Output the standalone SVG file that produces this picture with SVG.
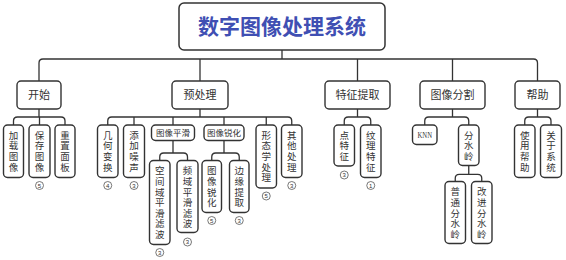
<svg xmlns="http://www.w3.org/2000/svg" width="566" height="260" viewBox="0 0 566 260">
<style>
.box{fill:#fff;stroke:#333;stroke-width:1.4}
.root{fill:#fff;stroke:#333;stroke-width:1.5}
.ln{fill:none;stroke:#333;stroke-width:1.3}
.t1{font-family:"Noto Sans CJK SC","Noto Sans",sans-serif;font-size:11px;fill:#333;text-anchor:middle}
.t2{font-family:"Noto Sans CJK SC","Noto Sans",sans-serif;font-size:9.5px;fill:#333;writing-mode:vertical-rl;letter-spacing:1.1px}
.th{font-family:"Noto Sans CJK SC","Noto Sans",sans-serif;font-size:8.5px;fill:#333;text-anchor:middle}
.tt{font-family:"Noto Sans CJK SC","Noto Sans",sans-serif;font-size:21px;font-weight:bold;fill:#3F4FB3;text-anchor:middle}
.knn{font-family:"Liberation Serif",serif;font-size:9px;fill:#333;text-anchor:middle}
.bd{fill:#fff;stroke:#555;stroke-width:0.8}
.bn{font-family:"Liberation Sans",sans-serif;font-size:6px;fill:#333;text-anchor:middle}
</style>
<rect width="566" height="260" fill="#fff"/>
<g id="connectors">
<path class="ln" d="M282 50 V59"/>
<path class="ln" d="M39 81 V63 Q39 59 43 59 H533.5 Q537.5 59 537.5 63 V81"/>
<path class="ln" d="M200 59 V81 M357.5 59 V81 M452.5 59 V81"/>
<path class="ln" d="M39 109 V117 M13.5 125 V121 Q13.5 117 17.5 117 H61 Q65 117 65 121 V125 M39.5 117 V125"/>
<path class="ln" d="M200 109 V117 M107.75 125 V121 Q107.75 117 111.75 117 H287.75 Q291.75 117 291.75 121 V125 M134 117 V125 M173 117 V125 M224 117 V125 M266.25 117 V125"/>
<path class="ln" d="M173 140.5 V153 M159.75 160.5 V157 Q159.75 153 163.75 153 H183.5 Q187.5 153 187.5 157 V160.5"/>
<path class="ln" d="M224 140.5 V153 M211.75 160.5 V157 Q211.75 153 215.75 153 H235.25 Q239.25 153 239.25 157 V160.5"/>
<path class="ln" d="M357.5 109 V117 M344.25 125 V121 Q344.25 117 348.25 117 H366.75 Q370.75 117 370.75 121 V125"/>
<path class="ln" d="M452.5 109 V117 M424.75 125 V121 Q424.75 117 428.75 117 H464.75 Q468.75 117 468.75 121 V125"/>
<path class="ln" d="M468.75 165.5 V174.3 M455.25 181.5 V178.3 Q455.25 174.3 459.25 174.3 H477.75 Q481.75 174.3 481.75 178.3 V181.5"/>
<path class="ln" d="M537.5 109 V117 M524.75 125 V121 Q524.75 117 528.75 117 H547 Q551 117 551 121 V125"/>
</g>
<g id="root">
<rect class="root" x="179" y="3" width="206" height="47" rx="5"/>
<text class="tt" x="282" y="34">数字图像处理系统</text>
</g>
<g id="n-start">
<rect class="box" x="17" y="81" width="44" height="28" rx="4"/>
<text class="t1" x="39" y="99">开始</text>
</g>
<g id="n-pre">
<rect class="box" x="172" y="81" width="56" height="28" rx="4"/>
<text class="t1" x="200" y="99">预处理</text>
</g>
<g id="n-feat">
<rect class="box" x="325" y="81" width="65" height="28" rx="4"/>
<text class="t1" x="357.5" y="99">特征提取</text>
</g>
<g id="n-seg">
<rect class="box" x="420" y="81" width="65" height="28" rx="4"/>
<text class="t1" x="452.5" y="99">图像分割</text>
</g>
<g id="n-help">
<rect class="box" x="515" y="81" width="45" height="28" rx="4"/>
<text class="t1" x="537.5" y="99">帮助</text>
</g>
<g id="n-load">
<rect class="box" x="3.5" y="125" width="20" height="52.5" rx="4"/>
<text class="t2" x="13.5" y="130.5">加载图像</text>
</g>
<g id="n-save">
<rect class="box" x="29" y="125" width="21" height="52.5" rx="4"/>
<text class="t2" x="39.5" y="130.5">保存图像</text>
<circle class="bd" cx="39.5" cy="185.5" r="4"/>
<text class="bn" x="39.5" y="187.6">5</text>
</g>
<g id="n-reset">
<rect class="box" x="55" y="125" width="20" height="52.5" rx="4"/>
<text class="t2" x="65" y="130.5">重置面板</text>
</g>
<g id="n-geo">
<rect class="box" x="97.5" y="125" width="20.5" height="52.5" rx="4"/>
<text class="t2" x="107.75" y="130.5">几何变换</text>
<circle class="bd" cx="107.75" cy="185.5" r="4"/>
<text class="bn" x="107.75" y="187.6">4</text>
</g>
<g id="n-noise">
<rect class="box" x="123.5" y="125" width="21" height="52.5" rx="4"/>
<text class="t2" x="134" y="130.5">添加噪声</text>
<circle class="bd" cx="134" cy="185.5" r="4"/>
<text class="bn" x="134" y="187.6">3</text>
</g>
<g id="n-smooth">
<rect class="box" x="151.5" y="125" width="43" height="15.5" rx="4"/>
<text class="th" x="173" y="135.9">图像平滑</text>
</g>
<g id="n-sharp">
<rect class="box" x="204" y="125" width="40" height="15.5" rx="4"/>
<text class="th" x="224" y="135.9">图像锐化</text>
</g>
<g id="n-morph">
<rect class="box" x="256" y="125" width="20.5" height="63" rx="4"/>
<text class="t2" x="266.25" y="130.5">形态学处理</text>
<circle class="bd" cx="266.25" cy="196" r="4"/>
<text class="bn" x="266.25" y="198.1">5</text>
</g>
<g id="n-other">
<rect class="box" x="281.5" y="125" width="20.5" height="52.5" rx="4"/>
<text class="t2" x="291.75" y="130.5">其他处理</text>
<circle class="bd" cx="291.75" cy="185.5" r="4"/>
<text class="bn" x="291.75" y="187.6">3</text>
</g>
<g id="n-spatial">
<rect class="box" x="149.5" y="160.5" width="20.5" height="84" rx="4"/>
<text class="t2" x="159.75" y="166">空间域平滑滤波</text>
<circle class="bd" cx="159.75" cy="252.5" r="4"/>
<text class="bn" x="159.75" y="254.6">3</text>
</g>
<g id="n-freq">
<rect class="box" x="177" y="160.5" width="21" height="72" rx="4"/>
<text class="t2" x="187.5" y="166">频域平滑滤波</text>
<circle class="bd" cx="187.5" cy="242" r="4"/>
<text class="bn" x="187.5" y="244.1">3</text>
</g>
<g id="n-sharp2">
<rect class="box" x="202" y="160.5" width="19.5" height="52" rx="4"/>
<text class="t2" x="211.75" y="166">图像锐化</text>
<circle class="bd" cx="211.75" cy="220.5" r="4"/>
<text class="bn" x="211.75" y="222.6">5</text>
</g>
<g id="n-edge">
<rect class="box" x="229.5" y="160.5" width="19.5" height="52" rx="4"/>
<text class="t2" x="239.25" y="166">边缘提取</text>
<circle class="bd" cx="239.25" cy="220.5" r="4"/>
<text class="bn" x="239.25" y="222.6">3</text>
</g>
<g id="n-point">
<rect class="box" x="334" y="125" width="20.5" height="41" rx="4"/>
<text class="t2" x="344.25" y="130.5">点特征</text>
<circle class="bd" cx="344.25" cy="175" r="4"/>
<text class="bn" x="344.25" y="177.1">3</text>
</g>
<g id="n-texture">
<rect class="box" x="360.5" y="125" width="20.5" height="52.5" rx="4"/>
<text class="t2" x="370.75" y="130.5">纹理特征</text>
<circle class="bd" cx="370.75" cy="185.5" r="4"/>
<text class="bn" x="370.75" y="187.6">1</text>
</g>
<g id="n-knn">
<rect class="box" x="412.5" y="125" width="24.5" height="19.5" rx="4"/>
<text class="knn" x="424.75" y="137.8" textLength="14.5" lengthAdjust="spacingAndGlyphs">KNN</text>
</g>
<g id="n-ws">
<rect class="box" x="458.5" y="125" width="20.5" height="40.5" rx="4"/>
<text class="t2" x="468.75" y="130.5">分水岭</text>
</g>
<g id="n-ws1">
<rect class="box" x="445" y="181.5" width="20.5" height="62" rx="4"/>
<text class="t2" x="455.25" y="187">普通分水岭</text>
</g>
<g id="n-ws2">
<rect class="box" x="471.5" y="181.5" width="20.5" height="62" rx="4"/>
<text class="t2" x="481.75" y="187">改进分水岭</text>
</g>
<g id="n-usage">
<rect class="box" x="514.5" y="125" width="20.5" height="52.5" rx="4"/>
<text class="t2" x="524.75" y="130.5">使用帮助</text>
</g>
<g id="n-about">
<rect class="box" x="540.5" y="125" width="21" height="52.5" rx="4"/>
<text class="t2" x="551" y="130.5">关于系统</text>
</g>
</svg>
